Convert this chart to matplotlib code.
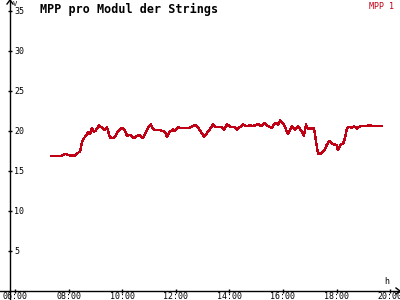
import matplotlib
matplotlib.use('Agg')
import matplotlib.pyplot as plt
from matplotlib.lines import Line2D

# time of day (decimal hours) and MPP voltage per module (V)
hours = [7.34, 7.75, 7.87, 7.98, 8.13, 8.24, 8.35, 8.43, 8.50, 8.57,
         8.65, 8.72, 8.80, 8.87, 8.95, 9.02, 9.13, 9.25, 9.36, 9.43,
         9.51, 9.54, 9.69, 9.84, 9.96, 10.07, 10.18, 10.29, 10.44, 10.55,
         10.66, 10.78, 10.89, 10.96, 11.07, 11.15, 11.22, 11.41, 11.60, 11.67,
         11.78, 11.90, 11.97, 12.08, 12.16, 12.49, 12.72, 12.83, 12.94, 13.05,
         13.16, 13.28, 13.39, 13.46, 13.72, 13.80, 13.91, 14.06, 14.17, 14.28,
         14.43, 14.51, 14.66, 14.77, 14.88, 15.07, 15.18, 15.29, 15.40, 15.59,
         15.70, 15.81, 15.89, 16.00, 16.07, 16.19, 16.26, 16.34, 16.45, 16.56,
         16.67, 16.78, 16.86, 16.93, 17.16, 17.23, 17.31, 17.42, 17.53, 17.64,
         17.72, 17.83, 17.94, 18.01, 18.05, 18.16, 18.24, 18.31, 18.39, 18.50,
         18.57, 18.65, 18.76, 18.87, 18.99, 19.10, 19.25, 19.36, 19.47, 19.69]
mpp1 = [16.9, 16.9, 17.15, 17.0, 16.9, 16.95, 17.25, 17.5, 18.6, 19.1,
        19.4, 19.9, 19.6, 20.4, 19.9, 20.1, 20.7, 20.4, 20.1, 20.5,
        19.6, 19.2, 19.1, 19.9, 20.4, 20.25, 19.4, 19.5, 19.1, 19.4,
        19.5, 19.1, 19.9, 20.4, 20.8, 20.25, 20.1, 20.1, 19.9, 19.3,
        19.9, 20.2, 20.0, 20.5, 20.4, 20.4, 20.75, 20.4, 19.9, 19.25,
        19.75, 20.25, 20.9, 20.5, 20.5, 20.1, 20.8, 20.5, 20.5, 20.2,
        20.6, 20.8, 20.6, 20.7, 20.6, 20.9, 20.6, 21.0, 20.7, 20.4,
        21.0, 20.8, 21.3, 21.0, 20.5, 19.6, 20.1, 20.6, 20.2, 20.6,
        20.1, 19.4, 20.8, 20.3, 20.3, 18.75, 17.1, 17.2, 17.5, 18.3,
        18.75, 18.4, 18.3, 18.25, 17.6, 18.3, 18.4, 19.1, 20.4, 20.5,
        20.4, 20.6, 20.3, 20.6, 20.6, 20.6, 20.75, 20.6, 20.6, 20.6]

xticks = [6, 8, 10, 12, 14, 16, 18, 20]
xlabels = ['06:00', '08:00', '10:00', '12:00', '14:00', '16:00', '18:00', '20:00']
yticks = [5, 10, 15, 20, 25, 30, 35]

red = '#c00014'
mono = 'DejaVu Sans Mono'
W, H = 400, 300

fig = plt.figure(figsize=(4, 3), dpi=100)
fig.patch.set_facecolor('white')
ax = fig.add_axes([10 / W, 9 / H, 390 / W, 291 / H])
ax.set_xlim(5.813, 20.366)
ax.set_ylim(0, 36.375)

ax.plot(hours, mpp1, color=red, lw=1.0, antialiased=False)

for s in ['top', 'right']:
    ax.spines[s].set_visible(False)
for s in ['left', 'bottom']:
    ax.spines[s].set_linewidth(1.0)

ax.set_xticks(xticks)
ax.set_xticklabels(xlabels, family=mono, fontsize=6)
ax.set_yticks(yticks)
ax.set_yticklabels([str(v) for v in yticks], family=mono, fontsize=6, ha='left')
ax.tick_params(axis='x', direction='inout', length=3.5, width=1, pad=-1.0)
ax.tick_params(axis='y', direction='inout', length=3, width=1, pad=-4.6)

# axis lines run past the origin, with arrow heads
k = dict(color='black', lw=1.0, transform=fig.transFigure)
fig.add_artist(Line2D([10 / W, 10 / W], [0, 9 / H], **k))
fig.add_artist(Line2D([0, 10 / W], [9 / H, 9 / H], **k))
fig.add_artist(Line2D([7 / W, 10 / W, 13 / W], [1 - 4 / H, 1, 1 - 4 / H], **k))
fig.add_artist(Line2D([396 / W, 400 / W, 396 / W], [12 / H, 9 / H, 6 / H], **k))

fig.text(13 / W, 1 - 0.5 / H, 'V', family=mono, fontsize=5, va='top', ha='left')
fig.text(387 / W, 1 - 286 / H, 'h', family=mono, fontsize=6, va='bottom', ha='center')

fig.text(40 / W, 1 - 3 / H, 'MPP pro Modul der Strings', family=mono,
         fontsize=8.5, fontweight='bold', va='top', ha='left')
fig.text(394 / W, 1 - 2 / H, 'MPP 1', family=mono, fontsize=6,
         color=red, va='top', ha='right')

fig.savefig('out.png', dpi=100)
